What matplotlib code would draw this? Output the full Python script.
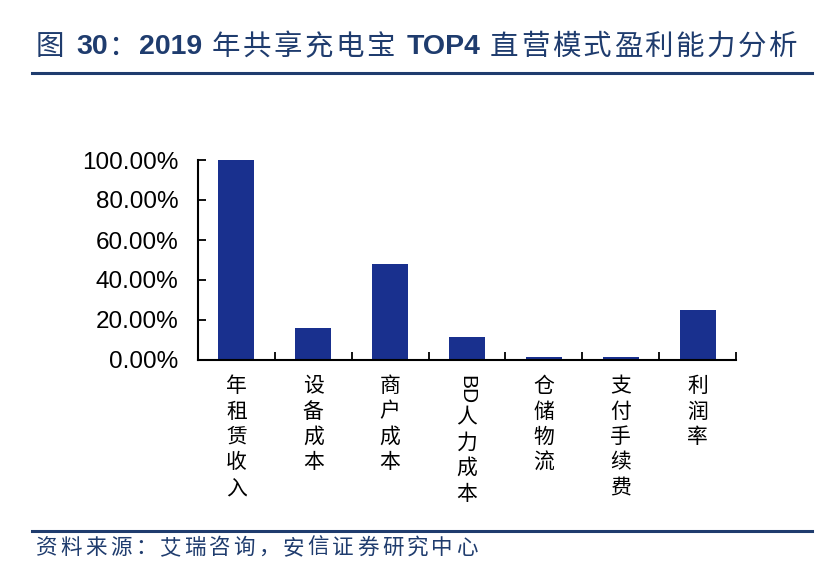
import re

import matplotlib
matplotlib.use('Agg')
import matplotlib.pyplot as plt
import numpy as np

plt.rcParams['font.family'] = ['Liberation Sans', 'Noto Sans CJK SC', 'DejaVu Sans']

categories = ['年租赁收入', '设备成本', '商户成本', 'BD人力成本', '仓储物流', '支付手续费', '利润率']
shares = [1.00, 0.162, 0.478, 0.115, 0.013, 0.013, 0.252]
yticks = [0.0, 0.2, 0.4, 0.6, 0.8, 1.0]

title_parts = [('图 ', False), ('30', True), ('：', False), ('2019', True), (' 年共享充电宝 ', False),
               ('TOP4', True), (' 直营模式盈利能力分析', False)]
source = '资料来源：艾瑞咨询，安信证券研究中心'

NAVY = '#1f3c6e'
BAR = '#19308e'
W, H = 822, 568

fig = plt.figure(figsize=(W / 100, H / 100), dpi=100)
ax = fig.add_axes([198 / W, 1 - 360 / H, (736 - 198) / W, 200 / H])

x = np.arange(len(categories))
ax.bar(x, shares, width=0.47, color=BAR, zorder=2)
ax.set_xlim(-0.5, len(categories) - 0.5)
ax.set_ylim(0, 1.0)
ax.set_yticks(yticks)
ax.set_yticklabels([f'{v * 100:.2f}%' for v in yticks], fontsize=17.5)
ax.set_xticks(np.arange(len(categories) + 1) - 0.5)
ax.set_xticklabels([])
ax.tick_params(axis='both', direction='in', length=6, width=1.3, color='black')
ax.tick_params(axis='y', pad=14)
for side in ('top', 'right'):
    ax.spines[side].set_visible(False)
for side in ('left', 'bottom'):
    ax.spines[side].set_linewidth(1.5)

# vertical category labels: one CJK glyph per line, latin runs rotated
fig.canvas.draw()
renderer = fig.canvas.get_renderer()
step = 25.5
for i, label in enumerate(categories):
    offset = -15
    for tok in re.findall(r'[A-Za-z0-9]+|.', label):
        latin = tok.isascii()
        t = ax.annotate(tok, xy=(i, 0), xycoords=('data', 'axes fraction'),
                        xytext=(0, offset), textcoords='offset pixels',
                        ha='center', va='top', fontsize=15,
                        rotation=-90 if latin else 0,
                        family=['Noto Sans CJK SC'] if not latin else ['Liberation Sans'])
        if latin:
            offset -= t.get_window_extent(renderer).height + 2
        else:
            offset -= step


def spaced_text(xpos, ypix, pieces, size, gap):
    # draw pieces left to right; CJK glyphs one by one with extra gap
    for text, bold in pieces:
        for chunk in ([text] if bold else list(text)):
            t = fig.text(xpos / W, 1 - ypix / H, chunk, color=NAVY, fontsize=size,
                         fontweight='bold' if bold else 'normal', va='center', ha='left',
                         family=['Liberation Sans'] if bold else ['Noto Sans CJK SC'])
            w = t.get_window_extent(renderer).width
            if chunk == ' ':
                w = size * 0.35
            xpos += w + (0 if bold else gap)


spaced_text(36, 47, title_parts, 20.5, 2.4)
spaced_text(36, 548, [(source, False)], 15.5, 3.2)

fig.add_artist(plt.Line2D([32 / W, 812 / W], [1 - 73 / H] * 2, color=NAVY, lw=2.2))
fig.add_artist(plt.Line2D([32 / W, 812 / W], [1 - 531 / H] * 2, color=NAVY, lw=2.2))

fig.savefig('out.png', dpi=100)
